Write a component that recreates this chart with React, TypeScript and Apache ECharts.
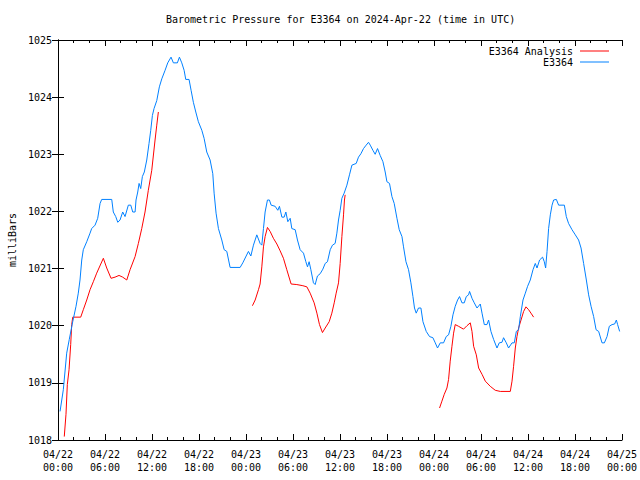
import { useEffect, useRef } from "react";
import * as echarts from "echarts";

// x values are hours since 2024-04-22 00:00 UTC
const xTickDates = ["04/22", "04/22", "04/22", "04/22", "04/23", "04/23", "04/23", "04/23", "04/24", "04/24", "04/24", "04/24", "04/25"];
const xTickTimes = ["00:00", "06:00", "12:00", "18:00", "00:00", "06:00", "12:00", "18:00", "00:00", "06:00", "12:00", "18:00", "00:00"];

const stationObs: [number, number][] = [
  [0.26, 1018.5], [0.68, 1018.88], [1.11, 1019.52], [1.44, 1019.76], [1.88, 1020.07], [2.3, 1020.34],
  [2.59, 1020.57], [2.81, 1020.8], [3.03, 1021.15], [3.23, 1021.33], [3.67, 1021.47], [4.09, 1021.62],
  [4.3, 1021.7], [4.73, 1021.76], [5.07, 1021.88], [5.37, 1022.14], [5.58, 1022.21], [6.86, 1022.21],
  [7.06, 1021.99], [7.37, 1021.91], [7.63, 1021.81], [7.92, 1021.85], [8.26, 1021.99], [8.56, 1021.91],
  [8.98, 1022.11], [9.29, 1022.11], [9.54, 1021.99], [9.84, 1021.99], [9.96, 1022.2], [10.18, 1022.34],
  [10.35, 1022.49], [10.56, 1022.4], [10.77, 1022.61], [11.02, 1022.69], [11.33, 1022.9], [11.62, 1023.19],
  [11.84, 1023.42], [12.05, 1023.68], [12.26, 1023.8], [12.61, 1023.94], [12.94, 1024.18], [13.25, 1024.32],
  [13.67, 1024.47], [14.01, 1024.6], [14.43, 1024.7], [14.73, 1024.6], [15.24, 1024.6], [15.5, 1024.7],
  [15.8, 1024.6], [16.1, 1024.47], [16.31, 1024.31], [16.73, 1024.31], [16.99, 1024.12], [17.28, 1023.91],
  [17.59, 1023.74], [17.92, 1023.57], [18.36, 1023.42], [18.65, 1023.28], [18.99, 1023.04], [19.42, 1022.9],
  [19.76, 1022.66], [19.93, 1022.32], [20.18, 1021.97], [20.48, 1021.7], [20.91, 1021.5], [21.21, 1021.33],
  [21.55, 1021.3], [21.97, 1021.02], [23.25, 1021.02], [23.59, 1021.1], [24.02, 1021.22], [24.31, 1021.3],
  [24.62, 1021.22], [24.95, 1021.41], [25.38, 1021.59], [25.8, 1021.44], [26.02, 1021.41], [26.23, 1021.7],
  [26.44, 1021.99], [26.74, 1022.2], [26.99, 1022.2], [27.21, 1022.11], [27.72, 1022.09], [28.06, 1022.02],
  [28.27, 1022.09], [28.58, 1021.9], [28.87, 1021.9], [29.09, 1021.99], [29.34, 1021.82], [29.64, 1021.88],
  [29.85, 1021.7], [30.28, 1021.68], [30.57, 1021.5], [30.91, 1021.33], [31.34, 1021.27], [31.64, 1021.12],
  [31.85, 1021.03], [32.06, 1021.12], [32.28, 1020.98], [32.61, 1020.75], [32.83, 1020.72], [33.12, 1020.87],
  [33.47, 1020.91], [33.81, 1020.99], [34.11, 1021.09], [34.4, 1021.12], [34.75, 1021.33], [35.04, 1021.41],
  [35.38, 1021.44], [35.6, 1021.62], [35.81, 1021.85], [36.02, 1022.02], [36.24, 1022.23], [36.53, 1022.32],
  [36.88, 1022.46], [37.21, 1022.64], [37.52, 1022.81], [38.07, 1022.84], [38.36, 1022.95], [38.67, 1023.01],
  [39.0, 1023.1], [39.34, 1023.16], [39.64, 1023.21], [39.86, 1023.16], [40.2, 1023.07], [40.49, 1023.0],
  [40.79, 1023.1], [41.13, 1022.98], [41.48, 1022.87], [41.77, 1022.69], [41.99, 1022.52], [42.32, 1022.49],
  [42.63, 1022.26], [42.92, 1022.14], [43.27, 1021.88], [43.56, 1021.68], [43.91, 1021.56], [44.11, 1021.38],
  [44.42, 1021.12], [44.75, 1020.98], [45.05, 1020.75], [45.31, 1020.51], [45.51, 1020.31], [45.73, 1020.22],
  [46.02, 1020.31], [46.33, 1020.31], [46.59, 1020.07], [47.01, 1019.9], [47.43, 1019.81], [47.86, 1019.79],
  [48.16, 1019.7], [48.45, 1019.61], [48.8, 1019.7], [49.22, 1019.7], [49.56, 1019.81], [49.86, 1019.84],
  [50.16, 1019.99], [50.42, 1020.19], [50.71, 1020.34], [51.01, 1020.45], [51.26, 1020.51], [51.57, 1020.4],
  [51.86, 1020.4], [52.12, 1020.51], [52.41, 1020.54], [52.54, 1020.6], [52.85, 1020.48], [53.14, 1020.4],
  [53.49, 1020.31], [53.91, 1020.38], [54.13, 1020.22], [54.42, 1020.02], [54.76, 1020.02], [54.97, 1020.1],
  [55.27, 1019.9], [55.61, 1019.76], [56.04, 1019.61], [56.33, 1019.7], [56.68, 1019.71], [56.88, 1019.79],
  [57.23, 1019.7], [57.52, 1019.61], [57.96, 1019.7], [58.25, 1019.7], [58.51, 1019.9], [58.8, 1019.93],
  [59.02, 1020.16], [59.36, 1020.45], [59.66, 1020.57], [59.95, 1020.69], [60.29, 1020.8], [60.64, 1020.98],
  [60.93, 1021.09], [61.15, 1021.01], [61.48, 1021.15], [61.86, 1021.2], [62.08, 1021.12], [62.25, 1021.01],
  [62.43, 1021.3], [62.63, 1021.7], [62.85, 1021.94], [63.07, 1022.11], [63.27, 1022.2], [63.62, 1022.21],
  [63.91, 1022.11], [64.64, 1022.11], [64.89, 1021.91], [65.18, 1021.79], [65.62, 1021.68], [66.04, 1021.59],
  [66.46, 1021.5], [66.77, 1021.36], [67.1, 1021.09], [67.45, 1020.8], [67.74, 1020.54], [68.05, 1020.34],
  [68.38, 1020.16], [68.69, 1019.93], [69.02, 1019.9], [69.45, 1019.7], [69.75, 1019.7], [70.09, 1019.81],
  [70.38, 1019.99], [70.73, 1020.02], [71.06, 1020.03], [71.28, 1020.1], [71.44, 1020.02], [71.7, 1019.9],
];

const analysisRun1: [number, number][] = [
  [0.8, 1018.06], [1.02, 1018.45], [1.19, 1018.97], [1.41, 1019.23], [1.62, 1019.67], [1.75, 1020.02],
  [1.88, 1020.15], [2.9, 1020.15], [3.23, 1020.28], [3.67, 1020.45], [4.09, 1020.63], [4.51, 1020.77],
  [4.94, 1020.92], [5.79, 1021.18], [6.22, 1021.01], [6.77, 1020.83], [7.28, 1020.85], [7.79, 1020.88],
  [8.26, 1020.85], [8.78, 1020.8], [9.2, 1020.98], [9.84, 1021.21], [10.26, 1021.44], [10.69, 1021.7],
  [11.11, 1021.99], [11.53, 1022.37], [11.97, 1022.72], [12.39, 1023.25], [12.61, 1023.51], [12.81, 1023.74],
];

const analysisRun2: [number, number][] = [
  [24.82, 1020.35], [25.17, 1020.45], [25.59, 1020.63], [25.8, 1020.73], [26.02, 1021.03], [26.23, 1021.38],
  [26.44, 1021.56], [26.74, 1021.72], [27.08, 1021.65], [27.5, 1021.53], [27.94, 1021.43], [28.36, 1021.31],
  [28.78, 1021.18], [29.21, 1020.98], [29.76, 1020.73], [30.49, 1020.72], [31.26, 1020.7], [31.77, 1020.68],
  [32.19, 1020.57], [32.7, 1020.4], [33.05, 1020.22], [33.38, 1020.02], [33.76, 1019.88], [34.11, 1019.96],
  [34.62, 1020.07], [34.96, 1020.22], [35.26, 1020.4], [35.51, 1020.57], [35.81, 1020.75], [36.02, 1021.09],
  [36.24, 1021.56], [36.45, 1021.94], [36.57, 1022.2], [36.66, 1022.29],
];

const analysisRun3: [number, number][] = [
  [48.71, 1018.56], [49.01, 1018.68], [49.31, 1018.8], [49.65, 1018.91], [49.86, 1019.06], [50.07, 1019.38],
  [50.29, 1019.64], [50.5, 1019.87], [50.71, 1020.02], [51.13, 1019.99], [51.77, 1019.94], [52.21, 1020.0],
  [52.63, 1020.05], [52.85, 1019.9], [53.06, 1019.64], [53.4, 1019.49], [53.7, 1019.26], [54.13, 1019.15],
  [54.55, 1019.03], [55.18, 1018.94], [55.82, 1018.87], [56.46, 1018.85], [57.74, 1018.85], [57.96, 1019.03],
  [58.16, 1019.29], [58.38, 1019.61], [58.59, 1019.81], [58.8, 1019.96], [59.11, 1020.1], [59.44, 1020.25],
  [59.74, 1020.33], [60.08, 1020.28], [60.38, 1020.22], [60.72, 1020.15],
];

const FONT = "DejaVu Sans Mono";
const RED = "#ff0000";
const BLUE = "#0080ff";

export default function App() {
  const ref = useRef<HTMLDivElement>(null);
  useEffect(() => {
    if (!ref.current) return;
    const chart = echarts.init(ref.current, null, { renderer: "svg" });
    const xLabel = (v: number) => {
      const i = Math.round(v / 6);
      return xTickDates[i] + "\n" + xTickTimes[i];
    };
    const redSeries = [analysisRun1, analysisRun2, analysisRun3].map((d) => ({
      type: "line",
      name: "E3364 Analysis",
      data: d,
      showSymbol: false,
      symbol: "none",
      lineStyle: { color: RED, width: 1 },
      itemStyle: { color: RED },
      xAxisIndex: 0,
      yAxisIndex: 0,
    }));
    chart.setOption({
      animation: false,
      backgroundColor: "#ffffff",
      title: {
        text: "Barometric Pressure for E3364 on 2024-Apr-22 (time in UTC)",
        left: 166,
        top: 14,
        padding: 0,
        textStyle: { fontFamily: FONT, fontSize: 10, fontWeight: "normal", color: "#000" },
      },
      legend: {
        data: ["E3364 Analysis", "E3364"],
        orient: "vertical",
        align: "right",
        right: 31,
        top: 46,
        padding: 0,
        itemGap: 1,
        itemWidth: 29,
        itemHeight: 1,
        icon: "rect",
        textStyle: { fontFamily: FONT, fontSize: 10, color: "#000", padding: [0, 2, 0, 0] },
      },
      grid: { left: 58, right: 18, top: 40, bottom: 40, containLabel: false, outerBoundsMode: "none" },
      xAxis: [
        {
          type: "value",
          min: 0,
          max: 72,
          interval: 6,
          axisLine: { show: true, lineStyle: { color: "#000", width: 1 } },
          axisTick: { show: true, inside: true, length: 6, lineStyle: { color: "#000" } },
          minorTick: { show: true, splitNumber: 3, length: 3, lineStyle: { color: "#000" } },
          splitLine: { show: false },
          axisLabel: {
            formatter: xLabel,
            fontFamily: FONT,
            fontSize: 10,
            color: "#000",
            lineHeight: 13,
            margin: 8,
            showMinLabel: true,
            showMaxLabel: true,
          },
        },
        {
          type: "value",
          position: "top",
          min: 0,
          max: 72,
          interval: 6,
          axisLine: { show: true, lineStyle: { color: "#000", width: 1 } },
          axisTick: { show: true, inside: true, length: 6, lineStyle: { color: "#000" } },
          minorTick: { show: true, splitNumber: 3, length: 3, lineStyle: { color: "#000" } },
          splitLine: { show: false },
          axisLabel: { show: false },
        },
      ],
      yAxis: [
        {
          type: "value",
          min: 1018,
          max: 1025,
          interval: 1,
          name: "milliBars",
          nameLocation: "middle",
          nameRotate: 90,
          nameGap: 40,
          nameTextStyle: { fontFamily: FONT, fontSize: 10, color: "#000" },
          axisLine: { show: true, lineStyle: { color: "#000", width: 1 } },
          axisTick: { show: true, inside: true, length: 6, lineStyle: { color: "#000" } },
          splitLine: { show: false },
          axisLabel: { fontFamily: FONT, fontSize: 10, color: "#000", margin: 6, formatter: (v: number) => String(v) },
        },
        {
          type: "value",
          position: "right",
          min: 1018,
          max: 1025,
          interval: 1,
          axisLine: { show: true, lineStyle: { color: "#000", width: 1 } },
          axisTick: { show: true, inside: true, length: 6, lineStyle: { color: "#000" } },
          splitLine: { show: false },
          axisLabel: { show: false },
        },
      ],
      series: [
        ...redSeries,
        {
          type: "line",
          name: "E3364",
          data: stationObs,
          showSymbol: false,
          symbol: "none",
          lineStyle: { color: BLUE, width: 1 },
          itemStyle: { color: BLUE },
          xAxisIndex: 0,
          yAxisIndex: 0,
        },
      ],
    });
    return () => chart.dispose();
  }, []);
  return (
    <div
      ref={ref}
      style={{ position: "absolute", left: 0, top: 0, width: 640, height: 480 }}
    />
  );
}
